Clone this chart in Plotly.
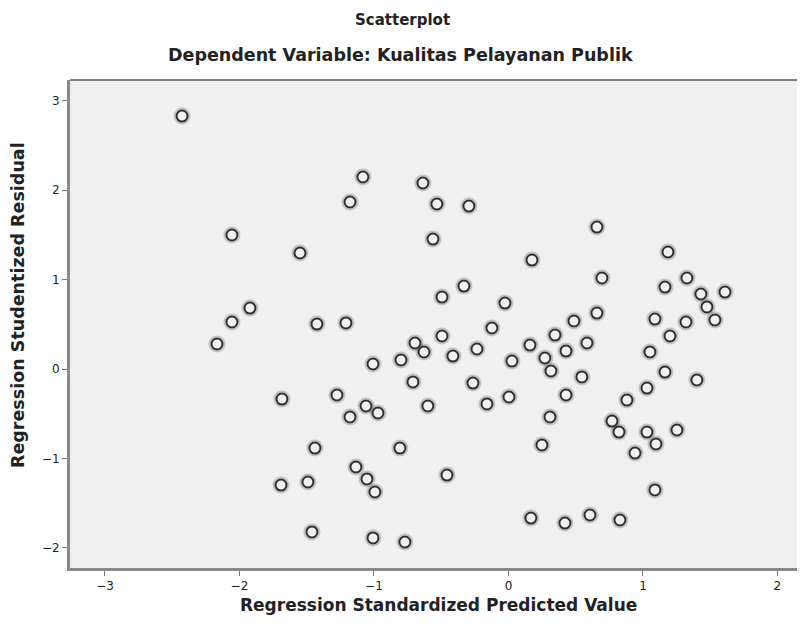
import plotly.graph_objects as go

# Regression Standardized Predicted Value (x) and Studentized Residual (y)
pred_values = [
    -2.427, -2.056, -1.550, -1.922, -2.056, -2.167, -1.424, -1.208, -1.082, -1.178,
    -0.636, -0.532, -0.294, -0.561, 0.175, -0.331, -0.494, -0.026, -0.123, 0.658,
    1.186, 0.695, 1.164, 1.327, 1.431, 1.610, 1.476, 1.535, 1.320, 1.089,
    0.658, 0.487, -0.494, -0.695, -0.628, -0.234, -0.413, 0.346, 0.160, 0.428,
    0.584, 0.271, 0.026, 0.316, 1.201, 1.052, 1.164, 1.401, 0.546, -0.264,
    0.004, -0.160, -0.599, 0.428, 1.030, 0.881, 0.309, 0.770, 0.822, 1.030,
    1.097, 1.253, 0.941, 0.249, 1.089, 0.420, 0.606, 0.829, 0.167, -1.007,
    -0.799, -0.710, -1.275, -1.178, -1.059, -0.970, -1.684, -1.439, -0.807, -1.691,
    -1.491, -1.134, -1.052, -0.993, -0.457, -1.461, -1.007, -0.770,
]
resid_values = [
    2.830, 1.499, 1.298, 0.682, 0.526, 0.280, 0.503, 0.515, 2.148, 1.868,
    2.081, 1.846, 1.823, 1.454, 1.219, 0.928, 0.805, 0.738, 0.459, 1.588,
    1.309, 1.018, 0.917, 1.018, 0.839, 0.861, 0.694, 0.548, 0.526, 0.559,
    0.626, 0.537, 0.369, 0.291, 0.190, 0.224, 0.145, 0.380, 0.268, 0.201,
    0.291, 0.123, 0.089, -0.022, 0.369, 0.190, -0.034, -0.123, -0.089, -0.157,
    -0.313, -0.391, -0.414, -0.291, -0.213, -0.347, -0.537, -0.582, -0.705, -0.705,
    -0.839, -0.682, -0.940, -0.850, -1.353, -1.723, -1.633, -1.689, -1.667, 0.056,
    0.101, -0.145, -0.291, -0.537, -0.414, -0.492, -0.336, -0.884, -0.884, -1.298,
    -1.264, -1.096, -1.230, -1.376, -1.186, -1.823, -1.890, -1.935,
]
x_ticks = [-3, -2, -1, 0, 1, 2]
y_ticks = [-2, -1, 0, 1, 2, 3]

title_text = "Scatterplot"
subtitle_text = "Dependent Variable: Kualitas Pelayanan Publik"
x_title = "Regression Standardized Predicted Value"
y_title = "Regression Studentized Residual"

FONT = "DejaVu Sans, Verdana, sans-serif"

fig = go.Figure()
fig.add_trace(go.Scatter(
    x=pred_values, y=resid_values, mode="markers",
    marker=dict(symbol="circle-open", size=15, color="rgba(60,60,60,0.25)",
                line=dict(width=2, color="rgba(60,60,60,0.25)")),
    hoverinfo="skip", showlegend=False,
))
fig.add_trace(go.Scatter(
    x=pred_values, y=resid_values, mode="markers",
    marker=dict(symbol="circle-open", size=11, color="#2e2e2e",
                line=dict(width=2, color="#2e2e2e")),
    hoverinfo="x+y", showlegend=False,
))

fig.update_layout(
    width=797, height=626,
    margin=dict(l=62, r=0, t=72, b=66),
    paper_bgcolor="white", plot_bgcolor="#f0f0f0",
    font=dict(family=FONT, size=12, color="#222"),
    xaxis=dict(range=[-3.26, 2.205], tickvals=x_ticks, ticks="outside",
               ticklen=5, tickcolor="#777", tickwidth=1,
               showline=True, linecolor="#8a8a8a", linewidth=3,
               showgrid=False, zeroline=False,
               tickfont=dict(size=12, color="#222")),
    yaxis=dict(range=[-2.226, 3.233], tickvals=y_ticks, ticks="outside",
               ticklen=5, tickcolor="#777", tickwidth=1,
               showline=True, linecolor="#8a8a8a", linewidth=3,
               showgrid=False, zeroline=False,
               tickfont=dict(size=12, color="#222")),
    shapes=[dict(type="line", xref="paper", yref="paper", x0=0, x1=1, y0=1, y1=1,
                 line=dict(color="#555", width=1.5))],
    annotations=[
        dict(text="<b>" + title_text + "</b>", xref="paper", yref="paper",
             x=0.453, y=1.123, xanchor="center", yanchor="middle",
             showarrow=False, font=dict(size=15, family=FONT, color="#222")),
        dict(text="<b>" + subtitle_text + "</b>", xref="paper", yref="paper",
             x=0.45, y=1.051, xanchor="center", yanchor="middle",
             showarrow=False, font=dict(size=17.5, family=FONT, color="#222")),
        dict(text="<b>" + x_title + "</b>", xref="paper", yref="paper",
             x=0.502, y=-0.0758, xanchor="center", yanchor="middle",
             showarrow=False, font=dict(size=17, family=FONT, color="#222")),
        dict(text="<b>" + y_title + "</b>", xref="paper", yref="paper",
             x=-0.0707, y=0.539, xanchor="center", yanchor="middle",
             textangle=-90, showarrow=False,
             font=dict(size=17.5, family=FONT, color="#222")),
    ],
)

fig.write_html("out.html")
